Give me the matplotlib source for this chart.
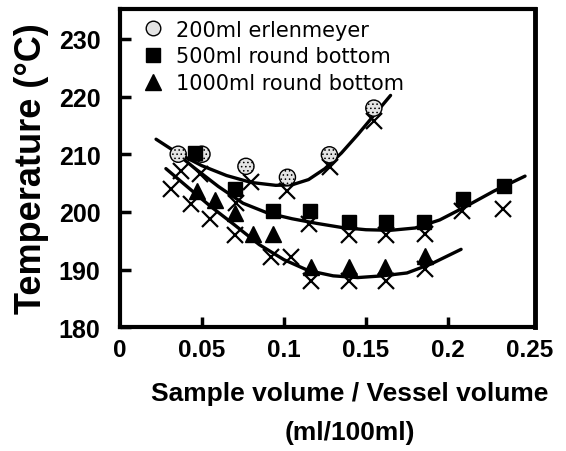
import matplotlib
matplotlib.use("Agg")
import matplotlib.pyplot as plt
from matplotlib.lines import Line2D

plt.rcParams['font.family'] = ['Liberation Sans', 'DejaVu Sans']
plt.rcParams['hatch.linewidth'] = 0.6

# measured points
erl_x = [0.0355, 0.0500, 0.0768, 0.1021, 0.1277, 0.1548]
erl_T = [210.0, 210.0, 207.9, 206.0, 209.9, 218.0]

rb500_x = [0.0455, 0.0699, 0.0931, 0.1160, 0.1396, 0.1620, 0.1856, 0.2089, 0.2340]
rb500_T = [210.2, 204.0, 200.2, 200.2, 198.3, 198.2, 198.3, 202.2, 204.5]

rb1000_x = [0.0470, 0.0578, 0.0700, 0.0810, 0.0931, 0.1164, 0.1396, 0.1618, 0.1860]
rb1000_T = [203.6, 202.0, 199.8, 196.2, 196.2, 190.4, 190.4, 190.4, 192.4]

# crosses (calculated values)
calc_x = [0.0313, 0.0375, 0.0435, 0.0485, 0.0547, 0.0700, 0.0709, 0.0800, 0.0921,
          0.1020, 0.1040, 0.1150, 0.1164, 0.1280, 0.1396, 0.1396, 0.1547, 0.1620,
          0.1620, 0.1860, 0.1860, 0.2083, 0.2335]
calc_T = [204.0, 207.1, 201.4, 206.6, 198.8, 195.9, 201.6, 205.2, 192.1,
          203.7, 192.1, 197.9, 188.0, 207.7, 195.9, 188.0, 215.8, 195.9,
          188.0, 196.2, 190.1, 200.2, 200.5]

# trend curves
erl_fit_x = [0.022, 0.035, 0.05, 0.065, 0.08, 0.095, 0.105, 0.115, 0.125, 0.135, 0.145, 0.155, 0.165]
erl_fit_T = [212.6, 210.2, 208.0, 206.3, 205.1, 204.6, 204.7, 205.6, 207.5, 210.2, 213.4, 216.8, 220.2]

rb500_fit_x = [0.033, 0.045, 0.06, 0.075, 0.09, 0.105, 0.12, 0.135, 0.15, 0.165, 0.18, 0.195, 0.21, 0.228, 0.247]
rb500_fit_T = [210.5, 207.7, 204.4, 201.5, 199.8, 198.8, 198.0, 197.3, 196.9, 196.8, 197.2, 198.6, 200.8, 203.6, 206.2]

rb1000_fit_x = [0.028, 0.04, 0.055, 0.07, 0.085, 0.10, 0.115, 0.13, 0.145, 0.16, 0.175, 0.19, 0.208]
rb1000_fit_T = [207.5, 204.6, 201.0, 197.7, 194.3, 191.7, 189.8, 188.9, 188.6, 188.9, 189.4, 191.0, 193.5]

labels = ["200ml erlenmeyer", "500ml round bottom", "1000ml round bottom"]
xticks = [0, 0.05, 0.1, 0.15, 0.2, 0.25]
xticklabels = ["0", "0.05", "0.1", "0.15", "0.2", "0.25"]
yticks = [180, 190, 200, 210, 220, 230]

fig = plt.figure(figsize=(5.66, 4.52), dpi=100)
ax = fig.add_axes([0.212, 0.274, 0.733, 0.704])

ax.plot(calc_x, calc_T, ls="none", marker="x", ms=12, mew=1.6, color="black", zorder=2)

for fx, fT in [(erl_fit_x, erl_fit_T), (rb500_fit_x, rb500_fit_T), (rb1000_fit_x, rb1000_fit_T)]:
    ax.plot(fx, fT, color="black", lw=2.4, solid_capstyle="round", zorder=3)

ax.scatter(erl_x, erl_T, s=135, marker="o", facecolor="#e4e4e4", edgecolor="black",
           linewidth=1.0, hatch="....", zorder=4)
ax.plot(rb500_x, rb500_T, ls="none", marker="s", ms=10.5, color="black", zorder=4)
ax.plot(rb1000_x, rb1000_T, ls="none", marker="^", ms=11, color="black", zorder=4)

ax.set_xlim(0, 0.253)
ax.set_ylim(180, 235.2)
ax.set_xticks(xticks)
ax.set_xticklabels(xticklabels)
ax.set_yticks(yticks)
xt = ax.xaxis.get_major_ticks()
xt[0].tick1line.set_visible(False)
xt[-1].tick1line.set_visible(False)

ax.tick_params(axis="x", direction="in", length=7, width=2.5, pad=8,
               labelsize=17.5)
ax.tick_params(axis="y", direction="in", length=8, width=2.5, pad=14,
               labelsize=18)
for lab in ax.get_xticklabels() + ax.get_yticklabels():
    lab.set_fontweight("bold")

for side in ["left", "bottom"]:
    ax.spines[side].set_linewidth(3)
ax.spines["right"].set_linewidth(3.5)
ax.spines["top"].set_linewidth(3)

ax.set_ylabel("Temperature (°C)", fontsize=26, fontweight="bold")
ax.yaxis.set_label_coords(-0.17, 0.5)
ax.set_xlabel("Sample volume / Vessel volume\n(ml/100ml)", fontsize=19,
              fontweight="bold", linespacing=1.8)
ax.xaxis.set_label_coords(0.554, -0.17)
ax.xaxis.label.set_va("top")

handles = [
    Line2D([], [], ls="none", marker="o", ms=10.5, mfc="#e4e4e4", mec="black", mew=1.0),
    Line2D([], [], ls="none", marker="s", ms=10.5, color="black"),
    Line2D([], [], ls="none", marker="^", ms=11, color="black"),
]
ax.legend(handles, labels, loc="upper left", bbox_to_anchor=(0.03, 1.006),
          frameon=False, handlelength=0.8, handletextpad=0.7, labelspacing=0.33,
          borderaxespad=0.2, prop={"family": "DejaVu Sans", "size": 15})

fig.savefig("out.png", dpi=100)
